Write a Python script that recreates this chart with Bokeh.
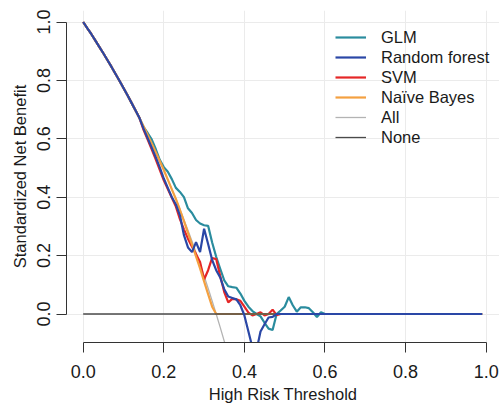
import math
import numpy as np
from bokeh.plotting import figure
from bokeh.models import (Range1d, FixedTicker, PrintfTickFormatter, Legend, LegendItem,
                          ColumnDataSource)
from bokeh.embed import file_html
from bokeh.resources import INLINE

# ---------------- data ----------------
thresholds = [round(i * 0.01, 2) for i in range(100)]  # 0.00 .. 0.99

all_thr = [round(i * 0.01, 2) for i in range(37)]      # 0.00 .. 0.36
all_nb = [1.000, 0.979, 0.959, 0.937, 0.915, 0.893, 0.870, 0.847, 0.823, 0.799,
          0.774, 0.749, 0.723, 0.697, 0.670, 0.642, 0.613, 0.584, 0.554, 0.524,
          0.493, 0.460, 0.427, 0.394, 0.359, 0.323, 0.287, 0.249, 0.211, 0.171,
          0.130, 0.088, 0.045, 0.000, -0.046, -0.093, -0.142]

none_thr = [0.00, 0.99]
none_nb = [0.0, 0.0]

common_head = [1.000, 0.979, 0.959, 0.937, 0.915, 0.893, 0.870, 0.847, 0.823, 0.799,
               0.774, 0.749, 0.723, 0.697, 0.670]  # 0.00 .. 0.14

glm = common_head + [
    0.640, 0.620, 0.598, 0.565, 0.528, 0.503, 0.487, 0.462, 0.432, 0.418,   # 0.15-0.24
    0.400, 0.362, 0.346, 0.322, 0.310, 0.304, 0.302, 0.245, 0.196, 0.155,   # 0.25-0.34
    0.115, 0.095, 0.092, 0.090, 0.070, 0.045, 0.025, 0.010, 0.000, -0.008,  # 0.35-0.44
    -0.030, -0.050, -0.055, 0.000, 0.012, 0.025, 0.058, 0.030, 0.008, 0.023,  # 0.45-0.54
    0.023, 0.020, 0.006, -0.010, 0.006, 0.000, 0.000, 0.000, 0.000, 0.000,  # 0.55-0.64
    0.0, 0.0, 0.0, 0.0, 0.0, 0.0, 0.0, 0.0, 0.0, 0.0,
    0.0, 0.0, 0.0, 0.0, 0.0, 0.0, 0.0, 0.0, 0.0, 0.0,
    0.0, 0.0, 0.0, 0.0, 0.0, 0.0, 0.0, 0.0, 0.0, 0.0,
    0.0, 0.0, 0.0, 0.0, 0.0,
]

random_forest = common_head + [
    0.634, 0.602, 0.570, 0.537, 0.502, 0.464, 0.432, 0.400, 0.375, 0.338,   # 0.15-0.24
    0.270, 0.228, 0.212, 0.246, 0.212, 0.292, 0.240, 0.185, 0.150, 0.125,   # 0.25-0.34
    0.085, 0.060, 0.055, 0.050, 0.030, -0.005, -0.060, -0.115, -0.125, -0.060,  # 0.35-0.44
    -0.035, -0.012, -0.010, 0.000, 0.000, 0.000, 0.000, 0.000, 0.000, 0.000,  # 0.45-0.54
    0.0, 0.0, 0.0, 0.0, 0.0, 0.0, 0.0, 0.0, 0.0, 0.0,
    0.0, 0.0, 0.0, 0.0, 0.0, 0.0, 0.0, 0.0, 0.0, 0.0,
    0.0, 0.0, 0.0, 0.0, 0.0, 0.0, 0.0, 0.0, 0.0, 0.0,
    0.0, 0.0, 0.0, 0.0, 0.0, 0.0, 0.0, 0.0, 0.0, 0.0,
    0.0, 0.0, 0.0, 0.0, 0.0,
]

svm = common_head + [
    0.630, 0.597, 0.564, 0.530, 0.494, 0.458, 0.428, 0.398, 0.368, 0.325,   # 0.15-0.24
    0.290, 0.258, 0.230, 0.205, 0.178, 0.118, 0.150, 0.192, 0.188, 0.130,   # 0.25-0.34
    0.075, 0.040, 0.052, 0.050, 0.045, 0.025, 0.005, -0.005, 0.000, 0.006,  # 0.35-0.44
    -0.005, 0.000, 0.015, -0.004, 0.000, 0.000, 0.000, 0.000, 0.000, 0.000,  # 0.45-0.54
    0.0, 0.0, 0.0, 0.0, 0.0, 0.0, 0.0, 0.0, 0.0, 0.0,
    0.0, 0.0, 0.0, 0.0, 0.0, 0.0, 0.0, 0.0, 0.0, 0.0,
    0.0, 0.0, 0.0, 0.0, 0.0, 0.0, 0.0, 0.0, 0.0, 0.0,
    0.0, 0.0, 0.0, 0.0, 0.0, 0.0, 0.0, 0.0, 0.0, 0.0,
    0.0, 0.0, 0.0, 0.0, 0.0,
]

naive_bayes = common_head + [
    0.642, 0.613, 0.584, 0.554, 0.524, 0.493, 0.460, 0.427, 0.394, 0.357,   # 0.15-0.24
    0.318, 0.278, 0.238, 0.197, 0.156, 0.112, 0.068, 0.025, 0.000, 0.000,   # 0.25-0.34
    0.0, 0.0, 0.0, 0.0, 0.0, 0.0, 0.0, 0.0, 0.0, 0.0,
    0.0, 0.0, 0.0, 0.0, 0.0, 0.0, 0.0, 0.0, 0.0, 0.0,
    0.0, 0.0, 0.0, 0.0, 0.0, 0.0, 0.0, 0.0, 0.0, 0.0,
    0.0, 0.0, 0.0, 0.0, 0.0, 0.0, 0.0, 0.0, 0.0, 0.0,
    0.0, 0.0, 0.0, 0.0, 0.0, 0.0, 0.0, 0.0, 0.0, 0.0,
    0.0, 0.0, 0.0, 0.0, 0.0, 0.0, 0.0, 0.0, 0.0, 0.0,
    0.0, 0.0, 0.0, 0.0, 0.0,
]

tick_values = [0.0, 0.2, 0.4, 0.6, 0.8, 1.0]
legend_labels = ["GLM", "Random forest", "SVM", "Naïve Bayes", "All", "None"]

# ---------------- styles ----------------
C_GLM = "#2a8c9e"
C_RF = "#2a47a6"
C_SVM = "#e52626"
C_NB = "#f4a040"
C_ALL = "#b3b3b3"
C_NONE = "#4a4a4a"
FONT = "Liberation Sans"

p = figure(width=499, height=406, output_backend="svg", toolbar_location=None,
           x_range=Range1d(-0.0414, 1.033), y_range=Range1d(-0.0976, 1.0394),
           min_border_left=66, min_border_right=0, min_border_top=10, min_border_bottom=64)
p.outline_line_color = None
p.background_fill_color = "white"
p.border_fill_color = "white"

r_all = p.line(all_thr, all_nb, line_color=C_ALL, line_width=1.3)
r_glm = p.line(thresholds, glm, line_color=C_GLM, line_width=2.2)
r_svm = p.line(thresholds, svm, line_color=C_SVM, line_width=2.2)
r_nb = p.line(thresholds, naive_bayes, line_color=C_NB, line_width=2.2)
r_none = p.line(none_thr, none_nb, line_color=C_NONE, line_width=1.3)
r_rf = p.line(thresholds, random_forest, line_color=C_RF, line_width=2.2)

# axes
for ax in (p.xaxis[0], p.yaxis[0]):
    ax.ticker = FixedTicker(ticks=tick_values)
    ax.formatter = PrintfTickFormatter(format="%.1f")
    ax.bounds = (0, 1)
    ax.major_tick_in = 0
    ax.major_tick_out = 10
    ax.minor_tick_line_color = None
    ax.axis_line_color = "#333333"
    ax.major_tick_line_color = "#333333"
    ax.major_label_text_font = FONT
    ax.major_label_text_font_size = "18px"
    ax.major_label_text_color = "#1a1a1a"
    ax.axis_label_text_font = FONT
    ax.axis_label_text_font_size = "16.5px"
    ax.axis_label_text_font_style = "normal"
    ax.axis_label_text_color = "#1a1a1a"

p.xaxis.axis_label = "High Risk Threshold"
p.yaxis.axis_label = "Standardized Net Benefit"
p.xaxis.major_label_standoff = 12
p.xaxis.axis_label_standoff = 4
p.yaxis.major_label_orientation = "parallel"
p.yaxis.major_label_standoff = 6
p.yaxis.axis_label_standoff = 6

p.xgrid.ticker = FixedTicker(ticks=tick_values)
p.ygrid.ticker = FixedTicker(ticks=tick_values)
for g in (p.xgrid[0], p.ygrid[0]):
    g.grid_line_color = "#ebebeb"
    g.grid_line_width = 1

legend = Legend(items=[
    LegendItem(label=legend_labels[0], renderers=[r_glm]),
    LegendItem(label=legend_labels[1], renderers=[r_rf]),
    LegendItem(label=legend_labels[2], renderers=[r_svm]),
    LegendItem(label=legend_labels[3], renderers=[r_nb]),
    LegendItem(label=legend_labels[4], renderers=[r_all]),
    LegendItem(label=legend_labels[5], renderers=[r_none]),
], location=(269, 195), margin=0, padding=0, spacing=0,
   label_height=20, glyph_height=20, glyph_width=31, label_standoff=15,
   border_line_color=None, background_fill_alpha=0,
   label_text_font=FONT, label_text_font_size="16.5px", label_text_color="#1a1a1a")
p.add_layout(legend, "center")

open("out.html", "w").write(file_html(p, INLINE))
